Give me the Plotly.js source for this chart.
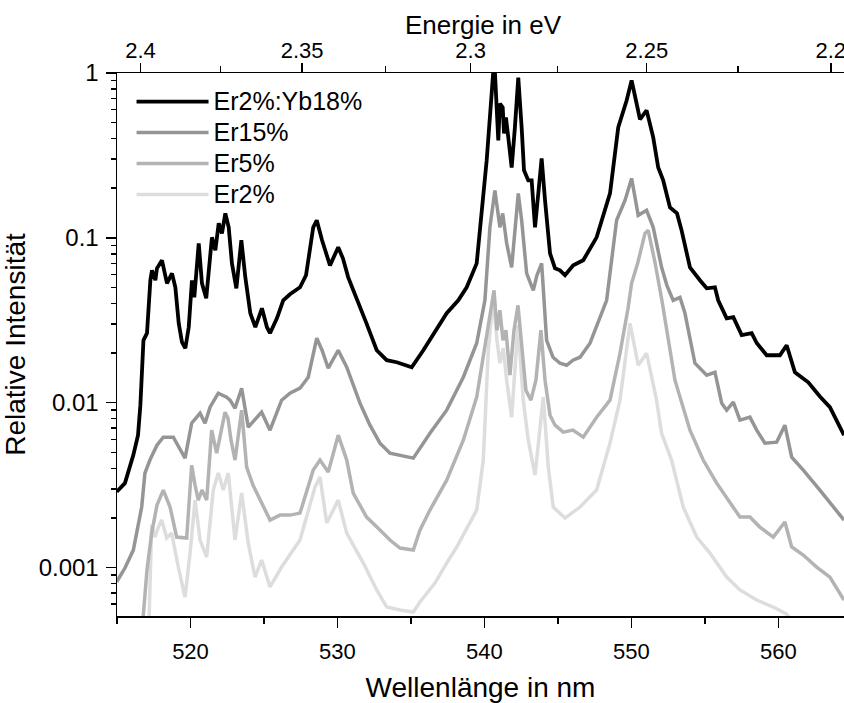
<!DOCTYPE html>
<html>
<head>
<meta charset="utf-8">
<script src="https://cdn.plot.ly/plotly-3.0.1.min.js"></script>
<style>html,body{margin:0;padding:0;background:#fff;}#chart{width:844px;height:703px;}</style>
</head>
<body>
<div id="chart"></div>
<script>
// ---- Data (wavelength in nm, relative intensity) ----
const seriesNames = ["Er2%:Yb18%", "Er15%", "Er5%", "Er2%"];

const wlYb = [514.98,515.54,516.11,516.43,516.59,516.80,517.04,517.27,517.38,517.61,517.72,518.06,518.40,518.74,518.97,519.20,519.42,519.65,519.88,520.10,520.26,520.56,520.78,521.07,521.46,521.69,521.92,522.14,522.37,522.60,522.82,523.12,523.46,523.73,524.07,524.41,524.86,525.20,525.41,525.88,526.31,526.77,527.45,527.86,528.35,528.59,528.95,529.49,530.05,530.37,530.73,531.19,531.53,531.94,532.67,533.35,534.03,535.05,535.84,536.63,537.43,538.22,538.79,539.47,539.69,540.15,540.49,540.60,540.71,540.94,541.05,541.24,541.33,541.46,541.62,541.85,542.07,542.30,542.53,542.69,542.98,543.21,543.44,543.64,543.89,544.12,544.46,544.80,545.14,545.48,546.04,546.72,547.63,548.54,549.10,549.67,550.01,550.35,550.58,551.03,551.48,551.82,552.16,552.62,553.10,553.41,553.98,554.66,555.12,555.68,555.90,556.48,556.93,557.50,558.18,558.52,559.20,560.10,560.56,561.12,562.03,562.82,563.50,564.46];
const intYb = [0.00288,0.00325,0.00481,0.00635,0.00966,0.0239,0.0264,0.0553,0.0635,0.0553,0.0653,0.0731,0.0530,0.0609,0.0501,0.0303,0.0233,0.0214,0.0287,0.0553,0.0436,0.0926,0.0530,0.0430,0.1007,0.0840,0.1225,0.1065,0.1407,0.1158,0.0700,0.0494,0.0966,0.0576,0.0349,0.0287,0.0374,0.0287,0.0264,0.0325,0.0418,0.0455,0.0501,0.0593,0.1158,0.1277,0.0966,0.0681,0.0876,0.0751,0.0576,0.0448,0.0379,0.0308,0.0208,0.0181,0.0176,0.0164,0.0208,0.0267,0.0349,0.0418,0.0501,0.0700,0.1158,0.295,0.751,1.03,1.02,0.390,0.653,0.618,0.430,0.537,0.407,0.267,0.467,0.939,0.467,0.257,0.223,0.223,0.1158,0.181,0.303,0.169,0.0805,0.0653,0.0635,0.0593,0.0681,0.0731,0.1007,0.186,0.467,0.681,0.901,0.653,0.523,0.593,0.407,0.267,0.223,0.153,0.1407,0.111,0.0662,0.0553,0.0494,0.0501,0.0418,0.0325,0.0330,0.0257,0.0264,0.0230,0.0194,0.0194,0.0223,0.0153,0.0133,0.0109,0.0094,0.00635];

const wlEr15 = [514.98,515.54,516.11,516.43,516.68,516.90,517.24,517.72,518.15,518.83,519.29,519.63,520.08,520.37,520.65,520.99,521.33,521.89,522.14,522.46,522.69,523.03,523.48,523.93,524.84,525.41,526.20,526.77,527.45,528.01,528.59,528.95,529.37,530.05,530.63,531.05,531.53,532.21,532.89,533.57,534.25,535.16,536.29,537.43,538.56,539.47,540.03,540.37,540.71,541.05,541.24,541.51,541.85,542.30,542.53,542.87,543.32,543.57,543.89,544.23,544.66,545.14,545.59,546.02,546.50,547.18,548.31,548.99,549.56,550.01,550.46,551.03,551.48,552.05,552.41,552.84,553.30,553.64,554.32,555.12,555.68,556.14,556.48,556.93,557.38,558.06,558.52,559.08,559.88,560.44,560.90,561.69,562.82,563.73,564.46];
const intEr15 = [0.000820,0.000993,0.001276,0.001811,0.002328,0.003740,0.004487,0.005521,0.006180,0.006180,0.005152,0.004611,0.007513,0.008054,0.008632,0.007513,0.009397,0.011420,0.011097,0.010798,0.010355,0.009259,0.012246,0.007105,0.008758,0.006814,0.010355,0.011420,0.012246,0.014278,0.024604,0.020800,0.016186,0.020800,0.016411,0.012765,0.009931,0.007305,0.005685,0.004942,0.004805,0.004611,0.006530,0.009009,0.014278,0.022946,0.041792,0.115818,0.194031,0.115818,0.140737,0.092625,0.066233,0.186097,0.127714,0.060940,0.048063,0.059272,0.070040,0.023918,0.018871,0.017352,0.016870,0.018098,0.018871,0.022946,0.041792,0.127714,0.168737,0.229474,0.136892,0.146780,0.115818,0.066233,0.051526,0.041792,0.043573,0.034859,0.017352,0.014682,0.015301,0.009931,0.009009,0.010070,0.007834,0.008168,0.006814,0.005685,0.005765,0.007305,0.004675,0.003899,0.002950,0.002328,0.001941];

const wlEr5 = [516.67,516.79,517.04,517.36,517.72,518.15,518.61,519.06,519.74,520.08,520.31,520.53,520.78,521.10,521.44,521.78,522.35,522.55,522.76,523.03,523.48,523.82,524.25,524.73,525.41,526.09,526.77,527.45,528.35,528.81,529.37,530.05,530.63,531.07,531.98,532.89,533.57,534.25,535.16,535.61,536.29,537.43,538.56,539.47,540.15,540.49,540.65,540.85,541.05,541.26,541.46,541.73,542.01,542.28,542.55,542.82,543.16,543.50,543.84,544.12,544.46,544.80,545.36,546.02,546.72,547.63,548.54,549.22,549.78,550.01,550.44,550.92,551.14,551.60,552.07,552.48,552.96,553.98,554.88,555.80,556.71,557.38,558.06,558.73,559.65,560.44,560.90,561.69,562.60,563.50,564.46];
const intEr5 = [0.000316,0.000515,0.000966,0.001618,0.002393,0.002950,0.002328,0.001531,0.001510,0.004178,0.003162,0.002565,0.002950,0.002565,0.006814,0.004942,0.008758,0.008054,0.005926,0.004487,0.009009,0.004064,0.003162,0.002565,0.001941,0.002080,0.002080,0.002139,0.003899,0.004487,0.003792,0.006353,0.004487,0.002829,0.002023,0.001687,0.001468,0.001313,0.001276,0.001687,0.002231,0.003390,0.005926,0.010798,0.026375,0.041792,0.048063,0.027506,0.036366,0.023918,0.027506,0.014682,0.027506,0.038977,0.020800,0.011904,0.010355,0.013685,0.027506,0.013685,0.008400,0.007305,0.006624,0.006814,0.006180,0.008168,0.010355,0.019953,0.037914,0.052988,0.071090,0.106500,0.111046,0.071090,0.041792,0.025654,0.013685,0.006814,0.004487,0.003250,0.002460,0.002023,0.002023,0.001759,0.001531,0.001888,0.001332,0.001191,0.001007,0.000875,0.000635];

const wlEr2 = [517.14,517.36,517.59,517.79,518.04,518.38,518.72,519.17,519.63,519.97,520.31,520.65,521.10,521.55,521.89,522.23,522.57,523.03,523.48,523.93,524.39,524.84,525.41,526.20,527.45,528.47,528.81,529.27,530.05,530.63,531.19,531.76,532.67,533.35,534.25,535.16,535.61,536.63,537.43,538.11,539.47,539.92,540.26,540.60,540.85,541.05,541.28,541.51,541.85,542.28,542.64,542.98,543.44,543.78,544.00,544.34,544.68,545.48,546.50,547.63,548.54,549.22,549.90,550.46,551.03,551.71,552.05,552.73,553.52,554.44,555.34,556.48,557.38,558.52,559.65,560.56,561.12];
const intEr2 = [0.000364,0.001811,0.001531,0.001735,0.001941,0.001510,0.001618,0.001007,0.000662,0.001225,0.002565,0.001468,0.001158,0.002950,0.003740,0.002950,0.003740,0.001468,0.002829,0.001407,0.000875,0.001110,0.000762,0.001007,0.001468,0.003076,0.003535,0.001861,0.002565,0.001618,0.001313,0.001064,0.000731,0.000576,0.000552,0.000537,0.000618,0.000805,0.001064,0.001332,0.002231,0.004487,0.020800,0.043573,0.023918,0.017352,0.021398,0.013685,0.008168,0.029500,0.010355,0.005926,0.003636,0.006814,0.010798,0.004064,0.002328,0.001995,0.002328,0.002950,0.005685,0.010355,0.030334,0.016870,0.019953,0.010355,0.006530,0.004487,0.002328,0.001531,0.001225,0.000875,0.000731,0.000635,0.000576,0.000522,0.000448];

// Axis ticks
const xTickVals = [520, 530, 540, 550, 560];
const yTickVals = [0.001, 0.01, 0.1, 1];
const yTickText = ["0.001", "0.01", "0.1", "1"];
const energyTicks = [2.4, 2.35, 2.3, 2.25, 2.2];
const energyTickText = ["2.4", "2.35", "2.3", "2.25", "2.2"];
const energyMinor = [2.375, 2.325, 2.275, 2.225];
const HC = 1239.84; // eV*nm

const colors = ["#000000", "#959595", "#b3b3b3", "#dddddd"];
const FONT = "Liberation Sans, Arial, sans-serif";

const yMinor = [];
for (let e = -4; e < 0; e++) for (let m = 2; m <= 9; m++) yMinor.push(m * Math.pow(10, e));

const legendLabel = s => '<span style="font-size:25px">' + s + '</span>';

const mk = (x, y, name, color, w) => ({
  x: x, y: y, name: legendLabel(name), type: "scatter", mode: "lines",
  line: {color: color, width: w}, hoverinfo: "skip"
});

// drawn bottom->top: Er2%, Er5%, Er15%, Er2%:Yb18% ; legend reversed
const traces = [
  mk(wlEr2, intEr2, seriesNames[3], colors[3], 3.5),
  mk(wlEr5, intEr5, seriesNames[2], colors[2], 3.5),
  mk(wlEr15, intEr15, seriesNames[1], colors[1], 3.5),
  mk(wlYb, intYb, seriesNames[0], colors[0], 3.8),
  {x: [515, 564.46], y: [1e-9, 1e-9], xaxis: "x2", type: "scatter", mode: "lines",
   showlegend: false, hoverinfo: "skip", opacity: 0, line: {width: 0}}
];

const layout = {
  width: 844, height: 703,
  margin: {l: 117, r: 0, t: 73, b: 87},
  paper_bgcolor: "#fff", plot_bgcolor: "#fff",
  font: {family: FONT, color: "#000", size: 22},
  showlegend: true,
  legend: {traceorder: "reversed", x: 0.02, y: 0.985, xanchor: "left", yanchor: "top",
           bgcolor: "rgba(0,0,0,0)", font: {size: 21.5, family: FONT}, itemwidth: 72},
  xaxis: {
    range: [515, 564.46], tickvals: xTickVals, ticktext: xTickVals.map(String),
    ticks: "outside", ticklen: 10, tickwidth: 1.5, tickcolor: "#000",
    showline: true, linecolor: "#000", linewidth: 1.5, showgrid: false, zeroline: false,
    tickfont: {size: 22}, ticklabelstandoff: 5,
    minor: {tickvals: [515, 525, 535, 545, 555], ticks: "outside", ticklen: 6, tickwidth: 1.5, tickcolor: "#000", showgrid: false},
    title: {text: "Wellenlänge in nm", font: {size: 28}, standoff: 14}
  },
  xaxis2: {
    overlaying: "x", side: "top", anchor: "y",
    range: [515, 564.46], tickvals: energyTicks.map(e => HC / e), ticktext: energyTickText,
    ticks: "outside", ticklen: 9, tickwidth: 1.5, tickcolor: "#000",
    showline: true, linecolor: "#000", linewidth: 1.5, showgrid: false, zeroline: false,
    tickfont: {size: 22}, ticklabelstandoff: -4, ticklabeloverflow: "allow",
    minor: {tickvals: energyMinor.map(e => HC / e), ticks: "outside", ticklen: 6, tickwidth: 1.5, tickcolor: "#000", showgrid: false}
  },
  yaxis: {
    type: "log", range: [-3.294, 0],
    tickvals: yTickVals, ticktext: yTickText,
    ticks: "outside", ticklen: 10, tickwidth: 1.5, tickcolor: "#000",
    showline: true, linecolor: "#000", linewidth: 1.5, showgrid: false, zeroline: false,
    tickfont: {size: 24}, ticklabelstandoff: 2,
    minor: {tickvals: yMinor, ticks: "outside", ticklen: 5, tickwidth: 1.5, tickcolor: "#000", showgrid: false},
    title: {text: "Relative Intensität", font: {size: 28}, standoff: 6}
  },
  annotations: [{
    text: "Energie in eV", xref: "paper", yref: "paper", x: 0.504, y: 1 + (73 - 25) / 543,
    xanchor: "center", yanchor: "middle", showarrow: false, font: {size: 26, family: FONT, color: "#000"}
  }],
  hovermode: false
};

Plotly.newPlot("chart", traces, layout, {staticPlot: true, displayModeBar: false});
</script>
</body>
</html>
